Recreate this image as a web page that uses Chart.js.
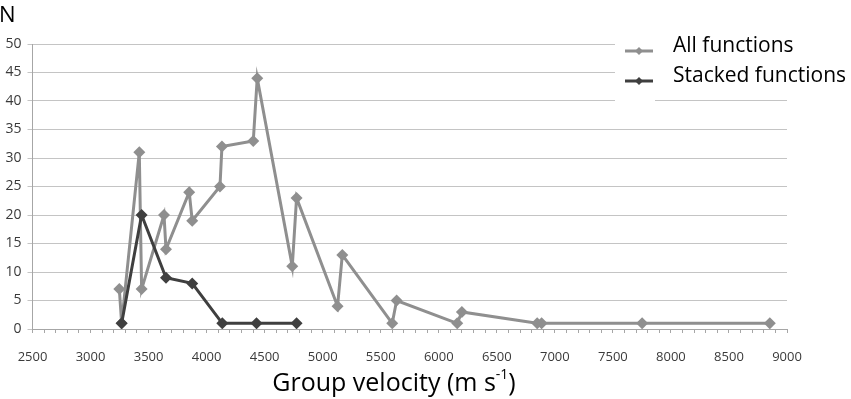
<!DOCTYPE html>
<html>
<head>
<meta charset="utf-8">
<script src="https://cdn.jsdelivr.net/npm/chart.js@4/dist/chart.umd.min.js"></script>
<style>
  html, body { margin: 0; padding: 0; background: #fff; }
  #wrap { position: relative; width: 851px; height: 399px; }
</style>
</head>
<body>
<div id="wrap"><canvas id="velChart" width="851" height="399"></canvas></div>
<script>
/* dati */
const xAll = [3248, 3268, 3420, 3440, 3633, 3650, 3850, 3876, 4115, 4132, 4402, 4436, 4738, 4775, 5128, 5169, 5599, 5637, 6159, 6199, 6848, 6886, 7752, 8852];
const yAll = [7, 1, 31, 7, 20, 14, 24, 19, 25, 32, 33, 44, 11, 23, 4, 13, 1, 5, 1, 3, 1, 1, 1, 1];
const xStacked = [3268, 3440, 3650, 3876, 4135, 4430, 4775];
const yStacked = [1, 20, 9, 8, 1, 1, 1];
const seriesNames = ["All functions", "Stacked functions"];
const seriesColors = ["#8f8f8f", "#3f3f3f"];
const xTitle = "Group velocity (m s";
const yTitle = "N";

const FONT = "'Open Sans', sans-serif";

const toPoints = (xs, ys) => xs.map((x, i) => ({ x, y: ys[i] }));

/* legenda e titoli */
const extras = {
  id: "extras",
  afterDraw(chart) {
    const ctx = chart.ctx;
    ctx.save();
    // legenda
    ctx.fillStyle = "#fff";
    ctx.fillRect(615, 28, 236, 66);
    ctx.fillRect(615, 94, 40, 10);
    const rows = [51, 81];
    seriesNames.forEach((name, i) => {
      const y = rows[i];
      ctx.strokeStyle = seriesColors[i];
      ctx.lineWidth = 3;
      ctx.beginPath();
      ctx.moveTo(625, y);
      ctx.lineTo(653, y);
      ctx.stroke();
      ctx.fillStyle = seriesColors[i];
      ctx.beginPath();
      ctx.moveTo(639, y - 4);
      ctx.lineTo(643, y);
      ctx.lineTo(639, y + 4);
      ctx.lineTo(635, y);
      ctx.closePath();
      ctx.fill();
      ctx.fillStyle = "#000";
      ctx.font = "21px " + FONT;
      ctx.textBaseline = "middle";
      ctx.textAlign = "left";
      ctx.fillText(name, 673, y - 5);
    });
    // titolo y
    ctx.font = "22px " + FONT;
    ctx.textBaseline = "alphabetic";
    ctx.fillText(yTitle, -1, 22);
    // titolo x con apice
    ctx.font = "25px " + FONT;
    const w1 = ctx.measureText(xTitle).width;
    ctx.font = "14px " + FONT;
    const w2 = ctx.measureText("-1").width;
    ctx.font = "25px " + FONT;
    const w3 = ctx.measureText(")").width;
    let x0 = 394 - (w1 + w2 + w3) / 2;
    const base = 391;
    ctx.fillText(xTitle, x0, base);
    ctx.font = "14px " + FONT;
    ctx.fillText("-1", x0 + w1, base - 12);
    ctx.font = "25px " + FONT;
    ctx.fillText(")", x0 + w1 + w2, base);
    ctx.restore();
  }
};

const ctx = document.getElementById("velChart");

new Chart(ctx, {
  type: "scatter",
  data: {
    datasets: [{
      label: seriesNames[0],
      data: toPoints(xAll, yAll),
      showLine: true,
      borderColor: seriesColors[0],
      backgroundColor: seriesColors[0],
      borderWidth: 3,
      pointStyle: "rectRot",
      pointRadius: 6,
      pointBorderWidth: 0,
      order: 2
    }, {
      label: seriesNames[1],
      data: toPoints(xStacked, yStacked),
      showLine: true,
      borderColor: seriesColors[1],
      backgroundColor: seriesColors[1],
      borderWidth: 3,
      pointStyle: "rectRot",
      pointRadius: 6,
      pointBorderWidth: 0,
      order: 1
    }]
  },
  options: {
    responsive: false,
    animation: false,
    layout: { padding: { top: 44, right: 64, left: 0, bottom: 0 } },
    plugins: {
      legend: { display: false },
      tooltip: { enabled: false }
    },
    scales: {
      x: {
        type: "linear",
        min: 2500,
        max: 9000,
        afterFit(scale) { scale.height = 70; },
        afterBuildTicks(scale) {
          const t = [];
          for (let v = 2500; v <= 9000; v += 100) t.push({ value: v });
          scale.ticks = t;
        },
        ticks: {
          autoSkip: false,
          maxRotation: 0,
          padding: 16,
          color: "#3a3a3a",
          font: { family: FONT, size: 13 },
          callback: v => (v % 500 === 0 ? String(v) : "")
        },
        grid: {
          drawOnChartArea: false,
          drawTicks: true,
          tickLength: 4,
          color: "#a6a6a6"
        },
        border: { color: "#a6a6a6", width: 1 }
      },
      y: {
        min: 0,
        max: 50,
        afterFit(scale) { scale.width = 32.5; },
        ticks: {
          stepSize: 5,
          padding: 6,
          color: "#3a3a3a",
          font: { family: FONT, size: 14 }
        },
        grid: {
          color: "#c4c4c4",
          lineWidth: 1,
          tickLength: 5
        },
        border: { color: "#a6a6a6", width: 1 }
      }
    }
  },
  plugins: [extras]
});
</script>
</body>
</html>
